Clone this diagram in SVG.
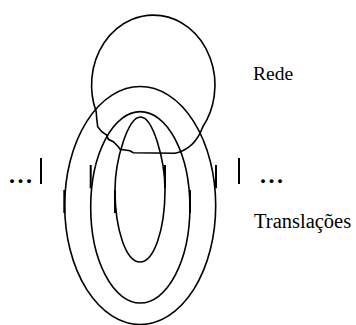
<svg xmlns="http://www.w3.org/2000/svg" width="356" height="325" viewBox="0 0 356 325">
<style>
.ln{fill:none;stroke:#000;stroke-width:1.6}
.tk{stroke:#000;stroke-width:2;fill:none}
.tx{font-family:'Liberation Serif','DejaVu Serif',serif;fill:#000}
</style>
<rect width="356" height="325" fill="#fff"/>
<g id="rede">
<path class="ln" d="M96.2,111.7 A61.7,70 0 1 1 202.7,127 C198,140 190,150 175,153.3 L133.3,152.7 L130,150.7 L120,149.3 L118.3,146.7 L113.3,141.7 L108.3,139.3 L106.7,135 L101.7,131.7 L97.7,126.7 L96.7,118.3 Z"/>
</g>
<g id="translacao-externa">
<ellipse class="ln" cx="140.2" cy="205.5" rx="75.5" ry="119"/>
</g>
<g id="translacao-media">
<ellipse class="ln" cx="140.3" cy="207.3" rx="49.6" ry="95.7"/>
</g>
<g id="translacao-interna">
<path class="ln" d="M115,190 C115,160 128,117 140.5,117 C153,117 165,160 165,190 A25,72 0 0 1 115,190 Z"/>
</g>
<g id="marcas">
<line class="tk" x1="41" y1="158" x2="41" y2="184"/>
<line class="tk" x1="239" y1="158" x2="239" y2="184"/>
<line class="tk" x1="90.7" y1="165" x2="90.7" y2="188.3"/>
<line class="tk" x1="165" y1="165" x2="165" y2="188.3"/>
<line class="tk" x1="216" y1="165" x2="216" y2="188.3"/>
<line class="tk" x1="64.3" y1="190" x2="64.3" y2="213"/>
<line class="tk" x1="115" y1="190" x2="115" y2="213"/>
<line class="tk" x1="190" y1="190" x2="190" y2="213"/>
</g>
<g id="rotulos">
<text class="tx" x="253" y="80" font-size="19.5">Rede</text>
<text class="tx" x="254" y="228" font-size="20.5">Translações</text>
<text class="tx" x="9" y="182.5" font-size="24" font-weight="bold" letter-spacing="2.5">...</text>
<text class="tx" x="260" y="182.5" font-size="24" font-weight="bold" letter-spacing="2.5">...</text>
</g>
</svg>
